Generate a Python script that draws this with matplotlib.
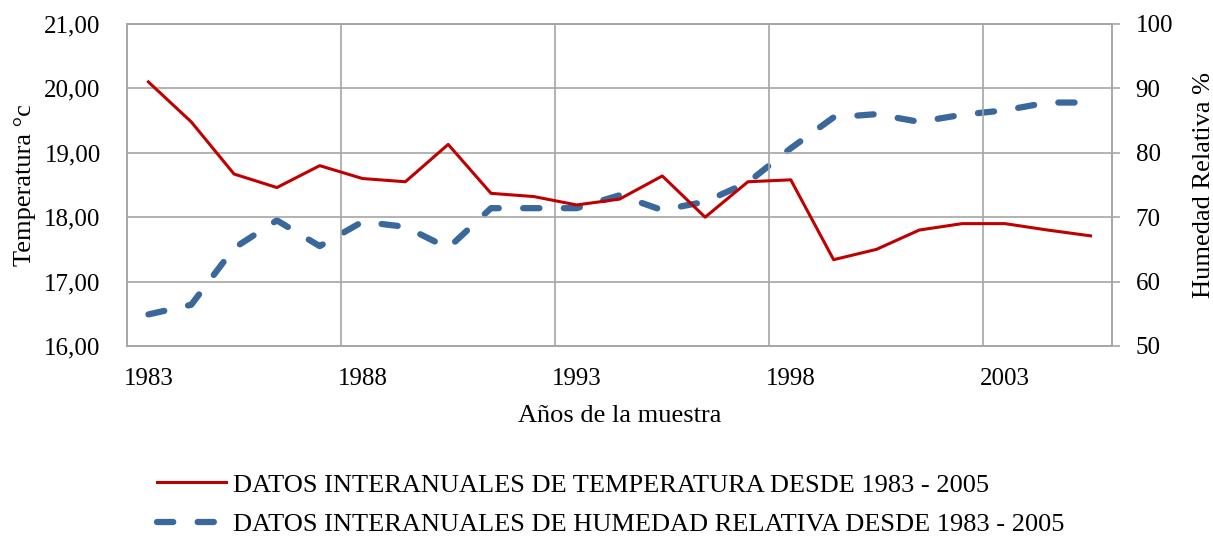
import matplotlib
matplotlib.use("Agg")
import matplotlib.pyplot as plt

# ------------------------ Data ------------------------
years = list(range(1983, 2006))
temperatura = [20.10, 19.48, 18.67, 18.46, 18.80, 18.60, 18.55, 19.13, 18.37, 18.32,
               18.19, 18.28, 18.64, 18.00, 18.55, 18.58, 17.34, 17.50, 17.80, 17.90,
               17.90, 17.80, 17.71]
humedad = [54.9, 56.4, 65.2, 69.5, 65.5, 69.3, 68.5, 65.2, 71.4, 71.4,
           71.4, 73.4, 71.1, 72.4, 75.4, 80.7, 85.5, 86.0, 84.8, 85.9,
           86.6, 87.8, 87.8]
temp_ticks = [16, 17, 18, 19, 20, 21]
hum_ticks = [50, 60, 70, 80, 90, 100]
year_labels = [1983, 1988, 1993, 1998, 2003]

label_temp = "DATOS INTERANUALES DE TEMPERATURA DESDE 1983 - 2005"
label_hum = "DATOS INTERANUALES DE HUMEDAD RELATIVA DESDE 1983 - 2005"

# ------------------------ Style ------------------------
plt.rcParams["font.family"] = ["Liberation Serif", "DejaVu Serif"]
fs_tick = 18
fs_lab = 19
grid_c = "#a6a6a6"
red = "#c00000"
blue = "#3a679c"

fig = plt.figure(figsize=(12.13, 5.40), dpi=100)
ax = fig.add_axes([0.1047, 0.3593, 0.812, 0.5963])
ax2 = ax.twinx()

x = list(range(len(years)))

# category axis like Excel: points at centers, gridlines between categories
ax.set_xlim(-0.5, len(years) - 0.5)
tick_pos = [years.index(y) for y in year_labels]
ax.set_xticks(tick_pos)
ax.set_xticklabels([str(y) for y in year_labels], fontsize=fs_tick)
ax.set_xticks([p - 0.5 for p in tick_pos[1:]], minor=True)
ax.tick_params(axis="x", which="both", length=0)
ax.tick_params(axis="x", which="major", pad=16)
ax.grid(True, which="minor", axis="x", color=grid_c, linewidth=1.2)

ax.set_ylim(16, 21)
ax.set_yticks(temp_ticks)
ax.set_yticklabels([f"{t:.2f}".replace(".", ",") for t in temp_ticks], fontsize=fs_tick)
ax.tick_params(axis="y", length=0, pad=19)
ax.grid(True, which="major", axis="y", color=grid_c, linewidth=1.2)

ax2.set_ylim(50, 100)
ax2.set_yticks(hum_ticks)
ax2.set_yticklabels([str(t) for t in hum_ticks], fontsize=fs_tick)
ax2.tick_params(axis="y", length=6, color=grid_c, width=1.2, pad=11)

for a in (ax, ax2):
    for s in a.spines.values():
        s.set_color(grid_c)
        s.set_linewidth(1.2)

l1, = ax.plot(x, temperatura, color=red, linewidth=2.2, zorder=3)
l2, = ax2.plot(x, humedad, color=blue, linewidth=4.5, linestyle=(0, (2.6, 3.9)),
               dash_capstyle="round", zorder=3)
ax.set_zorder(ax2.get_zorder() + 1)
ax.patch.set_visible(False)

ax.set_ylabel("Temperatura °c", fontsize=fs_lab, labelpad=6)
ax2.set_ylabel("Humedad Relativa %", fontsize=fs_lab, labelpad=14)
ax.set_xlabel("Años de la muestra", fontsize=fs_lab, labelpad=11)

fig.legend([l1, l2], [label_temp, label_hum], loc="upper left",
           bbox_to_anchor=(0.1294, 0.124), frameon=False, fontsize=fs_lab,
           handlelength=2.6, handletextpad=0.3, labelspacing=0.62,
           borderpad=0, borderaxespad=0)

fig.savefig("out.png", dpi=100)
